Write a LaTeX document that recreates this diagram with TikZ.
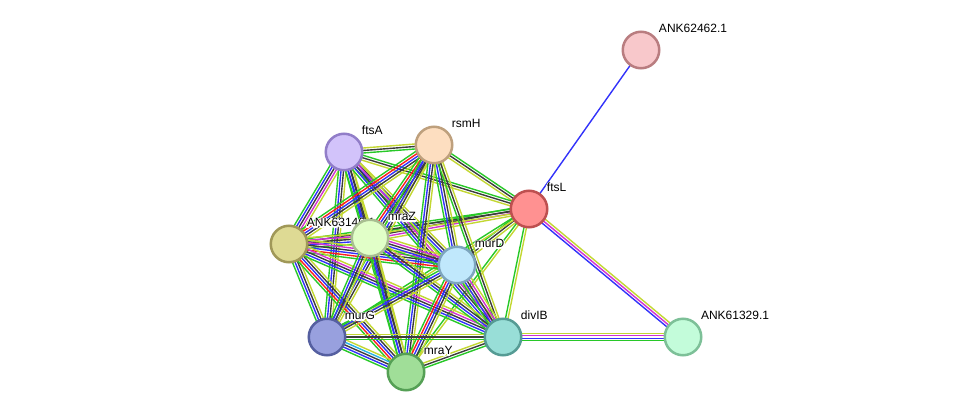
\documentclass[tikz,border=0pt]{standalone}
\usepackage{fontspec}
\setmainfont{Liberation Sans}
\usetikzlibrary{calc, backgrounds}

% evidence channels
\definecolor{evnbh}{RGB}{40, 200, 40}
\definecolor{evfus}{RGB}{250, 30, 30}
\definecolor{evcoo}{RGB}{50, 50, 250}
\definecolor{evcoe}{RGB}{60, 60, 60}
\definecolor{evexp}{RGB}{210, 50, 210}
\definecolor{evdbs}{RGB}{40, 180, 230}
\definecolor{evtxt}{RGB}{195, 215, 50}

% protein colours
\definecolor{fillA}{RGB}{248, 200, 203}  \definecolor{lineA}{RGB}{185, 125, 128}
\definecolor{fillB}{RGB}{210, 195, 250}  \definecolor{lineB}{RGB}{145, 125, 200}
\definecolor{fillC}{RGB}{253, 222, 192}  \definecolor{lineC}{RGB}{190, 160, 125}
\definecolor{fillD}{RGB}{255, 145, 145}  \definecolor{lineD}{RGB}{190, 80, 80}
\definecolor{fillE}{RGB}{222, 218, 148}  \definecolor{lineE}{RGB}{160, 152, 88}
\definecolor{fillF}{RGB}{225, 255, 200}  \definecolor{lineF}{RGB}{168, 190, 145}
\definecolor{fillG}{RGB}{192, 232, 252}  \definecolor{lineG}{RGB}{125, 165, 190}
\definecolor{fillH}{RGB}{152, 160, 222}  \definecolor{lineH}{RGB}{85, 95, 160}
\definecolor{fillI}{RGB}{160, 222, 152}  \definecolor{lineI}{RGB}{85, 160, 85}
\definecolor{fillJ}{RGB}{152, 222, 215}  \definecolor{lineJ}{RGB}{85, 155, 148}
\definecolor{fillK}{RGB}{195, 252, 218}  \definecolor{lineK}{RGB}{125, 192, 152}

% one parallel line per evidence colour
\newcommand{\evedge}[3]{%
  \foreach \ec [count=\ei] in {#3} {\xdef\evcount{\ei}}%
  \foreach \ec [count=\ei] in {#3} {%
    \pgfmathsetmacro{\evoff}{(\ei-(\evcount+1)/2)*2.5}%
    \draw[evline, draw=\ec] ($(#1)!\evoff pt!90:(#2)$) -- ($(#2)!\evoff pt!-90:(#1)$);
  }%
}
% white halo behind a label
\newcommand{\halo}[1]{\leavevmode\rlap{\special{pdf:literal direct 2.4 w 1 j 2 Tr}\textcolor{white}{#1}\special{pdf:literal direct 0 Tr}}#1}

\begin{document}
\begin{tikzpicture}[
    x=1pt, y=-1pt,
    prot/.style={
        circle, minimum size=36.5pt, inner sep=0pt, line width=2.5pt,
        label distance=6.5pt
    },
    lbl/.style={
        font=\fontsize{12}{14}\selectfont, inner sep=0pt, text=black,
        xshift=4pt, yshift=3pt
    },
    evline/.style={
        line width=1.4pt
    }
]
\useasboundingbox (0,0) rectangle (976,417);

% Proteins
\node[prot, fill=fillA, draw=lineA, label={[lbl]45:\halo{ANK62462.1}}] (ank62462) at (641,50) {};
\node[prot, fill=fillB, draw=lineB, label={[lbl]45:\halo{ftsA}}] (ftsA) at (344,152) {};
\node[prot, fill=fillC, draw=lineC, label={[lbl]45:\halo{rsmH}}] (rsmH) at (434,145) {};
\node[prot, fill=fillD, draw=lineD, label={[lbl]45:\halo{ftsL}}] (ftsL) at (529,209) {};
\node[prot, fill=fillE, draw=lineE, label={[lbl]45:\halo{ANK63146.1}}] (ank63146) at (289,244) {};
\node[prot, fill=fillF, draw=lineF, label={[lbl]45:\halo{mraZ}}] (mraZ) at (370,238) {};
\node[prot, fill=fillG, draw=lineG, label={[lbl]45:\halo{murD}}] (murD) at (457,265) {};
\node[prot, fill=fillH, draw=lineH, label={[lbl]45:\halo{murG}}] (murG) at (327,337) {};
\node[prot, fill=fillI, draw=lineI, label={[lbl]45:\halo{mraY}}] (mraY) at (406,372) {};
\node[prot, fill=fillJ, draw=lineJ, label={[lbl]45:\halo{divIB}}] (divIB) at (503,337) {};
\node[prot, fill=fillK, draw=lineK, label={[lbl]45:\halo{ANK61329.1}}] (ank61329) at (683,337) {};

% Interactions
\begin{scope}[on background layer]
\evedge{ftsL}{ank62462}{evcoo}
\evedge{ftsL}{ank61329}{evcoo,evexp,evtxt}
\evedge{divIB}{ank61329}{evnbh,evcoo,evexp,evtxt}
\evedge{ftsL}{divIB}{evnbh,evtxt}
\evedge{ftsL}{murD}{evnbh,evcoe,evtxt}
\evedge{ftsL}{mraY}{evnbh,evtxt}
\evedge{ftsL}{murG}{evnbh,evtxt}
\evedge{ftsL}{mraZ}{evnbh,evcoe,evexp,evtxt}
\evedge{ftsL}{ank63146}{evnbh,evcoe,evtxt}
\evedge{ftsL}{rsmH}{evnbh,evcoe,evtxt}
\evedge{ftsL}{ftsA}{evnbh,evcoe,evtxt}
\evedge{ftsA}{rsmH}{evnbh,evcoe,evtxt}
\evedge{ftsA}{ank63146}{evnbh,evcoo,evcoe,evexp,evtxt}
\evedge{ftsA}{mraZ}{evnbh,evcoo,evcoe,evtxt}
\evedge{ftsA}{murD}{evnbh,evcoo,evcoe,evtxt}
\evedge{ftsA}{murG}{evnbh,evcoo,evcoe,evtxt}
\evedge{ftsA}{mraY}{evnbh,evcoo,evcoe,evtxt}
\evedge{ftsA}{divIB}{evnbh,evcoo,evcoe,evexp,evtxt}
\evedge{rsmH}{ank63146}{evnbh,evfus,evcoo,evcoe,evtxt}
\evedge{rsmH}{mraZ}{evnbh,evfus,evcoo,evcoe,evtxt}
\evedge{rsmH}{murD}{evnbh,evcoo,evcoe,evtxt}
\evedge{rsmH}{murG}{evnbh,evcoo,evcoe,evtxt}
\evedge{rsmH}{mraY}{evnbh,evcoo,evcoe,evtxt}
\evedge{rsmH}{divIB}{evnbh,evcoe,evtxt}
\evedge{ank63146}{mraZ}{evnbh,evcoo,evcoe,evexp,evtxt}
\evedge{ank63146}{murD}{evnbh,evfus,evcoo,evcoe,evexp,evtxt}
\evedge{ank63146}{murG}{evnbh,evcoo,evcoe,evtxt}
\evedge{ank63146}{mraY}{evnbh,evfus,evcoo,evcoe,evtxt}
\evedge{ank63146}{divIB}{evnbh,evcoo,evcoe,evexp,evtxt}
\evedge{mraZ}{murD}{evnbh,evcoo,evcoe,evexp,evtxt}
\evedge{mraZ}{murG}{evnbh,evcoo,evcoe,evtxt}
\evedge{mraZ}{mraY}{evnbh,evcoo,evcoe,evtxt}
\evedge{mraZ}{divIB}{evnbh,evcoo,evcoe,evtxt}
\evedge{murD}{murG}{evnbh,evcoo,evcoe,evtxt}
\evedge{murD}{mraY}{evnbh,evfus,evcoo,evcoe,evtxt}
\evedge{murD}{divIB}{evnbh,evcoo,evcoe,evexp,evtxt}
\evedge{murG}{mraY}{evnbh,evcoo,evcoe,evdbs,evtxt}
\evedge{murG}{divIB}{evnbh,evcoe,evtxt}
\evedge{mraY}{divIB}{evnbh,evcoe,evtxt}
\end{scope}

\end{tikzpicture}
\end{document}
